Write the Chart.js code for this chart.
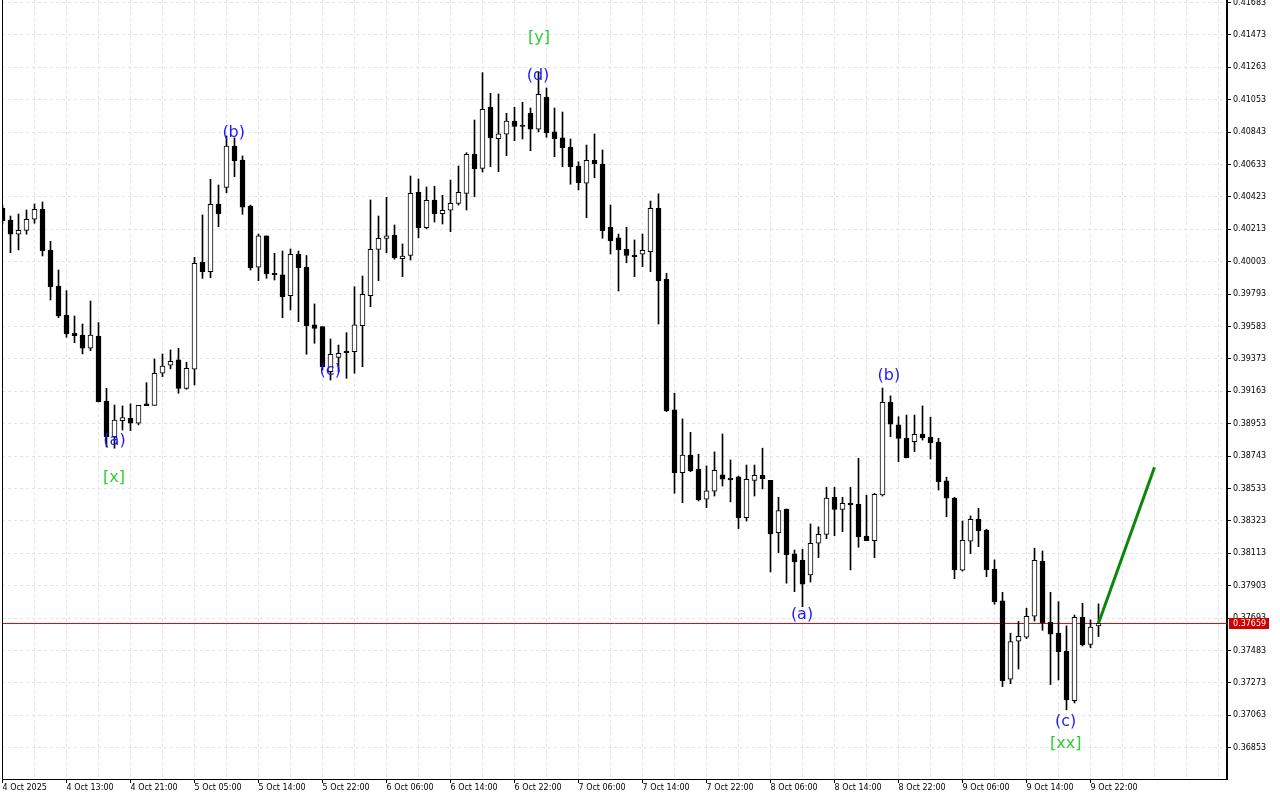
<!DOCTYPE html>
<html lang="en">
<head>
  <meta charset="UTF-8">
  <title>H1 candles</title>
  <script src="https://cdn.jsdelivr.net/npm/chart.js"></script>
  <style>
    body { margin: 0; background: #fff; }
  </style>
</head>
<body>
  <canvas id="candleChart" width="1280" height="800"></canvas>

  <script>
    // hourly candles, 4 Oct 05:00 .. 9 Oct 23:00
    const opens = [
      0.40349, 0.40273, 0.40181, 0.40206, 0.40278, 0.40343, 0.40077, 0.39845, 0.39656, 0.39539,
      0.39528, 0.39442, 0.39521, 0.39100, 0.38869, 0.38972, 0.38988, 0.38956, 0.39081, 0.39072,
      0.39280, 0.39332, 0.39366, 0.39182, 0.39306, 0.39999, 0.39938, 0.40377, 0.40485, 0.40753,
      0.40662, 0.40364, 0.39967, 0.40170, 0.39928, 0.39917, 0.39783, 0.40051, 0.39967, 0.39593,
      0.39582, 0.39290, 0.39383, 0.39424, 0.39420, 0.39588, 0.39783, 0.40083, 0.40153, 0.40174,
      0.40022, 0.40043, 0.40453, 0.40223, 0.40403, 0.40314, 0.40336, 0.40381, 0.40446, 0.40699,
      0.40608, 0.41004, 0.40800, 0.40829, 0.40915, 0.40882, 0.40965, 0.40861, 0.41070, 0.40844,
      0.40805, 0.40744, 0.40623, 0.40511, 0.40660, 0.40636, 0.40226, 0.40157, 0.40083, 0.40046,
      0.40051, 0.40068, 0.40349, 0.39889, 0.39042, 0.38635, 0.38750, 0.38659, 0.38463, 0.38515,
      0.38621, 0.38599, 0.38608, 0.38344, 0.38586, 0.38619, 0.38585, 0.38247, 0.38400, 0.38109,
      0.38068, 0.37972, 0.38178, 0.38236, 0.38476, 0.38398, 0.38437, 0.38431, 0.38225, 0.38195,
      0.38491, 0.39092, 0.38945, 0.38858, 0.38836, 0.38886, 0.38865, 0.38833, 0.38582, 0.38470,
      0.38003, 0.38191, 0.38333, 0.38264, 0.38011, 0.37804, 0.37297, 0.37543, 0.37569, 0.37705,
      0.38061, 0.37666, 0.37595, 0.37478, 0.37158, 0.37698, 0.37523, 0.37642
    ];
    const highs = [
      0.40370, 0.40299, 0.40312, 0.40338, 0.40377, 0.40390, 0.40135, 0.39949, 0.39815, 0.39651,
      0.39599, 0.39748, 0.39608, 0.39182, 0.39074, 0.39068, 0.39081, 0.39072, 0.39219, 0.39372,
      0.39405, 0.39431, 0.39442, 0.39351, 0.40031, 0.40306, 0.40537, 0.40500, 0.40818, 0.40805,
      0.40688, 0.40370, 0.40182, 0.40170, 0.40057, 0.40072, 0.40085, 0.40072, 0.40043, 0.39729,
      0.39582, 0.39502, 0.39463, 0.39543, 0.39841, 0.39910, 0.40403, 0.40299, 0.40420, 0.40241,
      0.40118, 0.40558, 0.40539, 0.40487, 0.40492, 0.40433, 0.40532, 0.40623, 0.40709, 0.40921,
      0.41228, 0.41094, 0.41090, 0.40965, 0.41004, 0.41036, 0.40999, 0.41232, 0.41129, 0.40999,
      0.40973, 0.40798, 0.40651, 0.40759, 0.40831, 0.40727, 0.40370, 0.40182, 0.40226, 0.40144,
      0.40182, 0.40396, 0.40443, 0.39928, 0.39150, 0.38984, 0.38897, 0.38755, 0.38679, 0.38770,
      0.38886, 0.38718, 0.38614, 0.38685, 0.38685, 0.38794, 0.38585, 0.38476, 0.38400, 0.38134,
      0.38139, 0.38303, 0.38284, 0.38541, 0.38541, 0.38476, 0.38541, 0.38729, 0.38489, 0.38502,
      0.39184, 0.39133, 0.38998, 0.39009, 0.39009, 0.39068, 0.38995, 0.38858, 0.38606, 0.38476,
      0.38322, 0.38355, 0.38405, 0.38269, 0.38070, 0.37860, 0.37595, 0.37672, 0.37757, 0.38146,
      0.38128, 0.37860, 0.37799, 0.37642, 0.37713, 0.37789, 0.37681, 0.37785
    ];
    const lows = [
      0.40247, 0.40061, 0.40079, 0.40181, 0.40252, 0.40040, 0.39755, 0.39640, 0.39513, 0.39478,
      0.39405, 0.39426, 0.39094, 0.38802, 0.38794, 0.38912, 0.38908, 0.38945, 0.39070, 0.39072,
      0.39258, 0.39308, 0.39150, 0.39176, 0.39204, 0.39895, 0.39899, 0.40230, 0.40450, 0.40554,
      0.40310, 0.39949, 0.39880, 0.39895, 0.39884, 0.39640, 0.39690, 0.39614, 0.39403, 0.39474,
      0.39301, 0.39236, 0.39290, 0.39247, 0.39280, 0.39322, 0.39711, 0.39880, 0.40061, 0.40019,
      0.39906, 0.40014, 0.40157, 0.40215, 0.40260, 0.40247, 0.40197, 0.40370, 0.40338, 0.40424,
      0.40584, 0.40619, 0.40586, 0.40690, 0.40787, 0.40798, 0.40722, 0.40844, 0.40809, 0.40683,
      0.40619, 0.40505, 0.40468, 0.40288, 0.40547, 0.40155, 0.40053, 0.39813, 0.39996, 0.39906,
      0.39971, 0.39938, 0.39599, 0.39031, 0.38502, 0.38441, 0.38642, 0.38452, 0.38409, 0.38484,
      0.38549, 0.38446, 0.38273, 0.38322, 0.38484, 0.38530, 0.37992, 0.38117, 0.37919, 0.37864,
      0.37767, 0.37927, 0.38085, 0.38208, 0.38227, 0.38253, 0.38005, 0.38152, 0.38195, 0.38085,
      0.38484, 0.38869, 0.38707, 0.38731, 0.38772, 0.38847, 0.38724, 0.38523, 0.38350, 0.37948,
      0.37998, 0.38111, 0.38156, 0.37961, 0.37783, 0.37249, 0.37268, 0.37363, 0.37560, 0.37674,
      0.37614, 0.37262, 0.37292, 0.37098, 0.37143, 0.37512, 0.37501, 0.37573
    ];
    const closes = [
      0.40269, 0.40181, 0.40206, 0.40278, 0.40343, 0.40074, 0.39841, 0.39651, 0.39536, 0.39523,
      0.39442, 0.39528, 0.39096, 0.38869, 0.38977, 0.38992, 0.38956, 0.39072, 0.39070, 0.39280,
      0.39327, 0.39357, 0.39182, 0.39312, 0.39993, 0.39938, 0.40375, 0.40314, 0.40753, 0.40658,
      0.40356, 0.39964, 0.40170, 0.39925, 0.39919, 0.39776, 0.40051, 0.39964, 0.39588, 0.39571,
      0.39322, 0.39403, 0.39409, 0.39413, 0.39593, 0.39792, 0.40083, 0.40155, 0.40171, 0.40029,
      0.40040, 0.40446, 0.40223, 0.40401, 0.40314, 0.40336, 0.40381, 0.40453, 0.40699, 0.40606,
      0.40991, 0.40807, 0.40831, 0.40915, 0.40880, 0.40880, 0.40861, 0.41088, 0.40839, 0.40800,
      0.40742, 0.40619, 0.40515, 0.40660, 0.40638, 0.40204, 0.40139, 0.40081, 0.40043, 0.40035,
      0.40077, 0.40349, 0.39880, 0.39037, 0.38635, 0.38750, 0.38646, 0.38459, 0.38517, 0.38651,
      0.38593, 0.38588, 0.38344, 0.38593, 0.38619, 0.38597, 0.38238, 0.38389, 0.38104, 0.38057,
      0.37912, 0.38178, 0.38236, 0.38470, 0.38398, 0.38437, 0.38428, 0.38221, 0.38195, 0.38495,
      0.39092, 0.38949, 0.38858, 0.38733, 0.38884, 0.38862, 0.38830, 0.38577, 0.38470, 0.38005,
      0.38197, 0.38333, 0.38260, 0.38007, 0.37799, 0.37287, 0.37540, 0.37575, 0.37705, 0.38068,
      0.37663, 0.37588, 0.37475, 0.37162, 0.37698, 0.37521, 0.37634, 0.37659
    ];

    // time labels, one every 8 bars
    const xLabels = [
      '4 Oct 2025', '4 Oct 13:00', '4 Oct 21:00', '5 Oct 05:00', '5 Oct 14:00', '5 Oct 22:00',
      '6 Oct 06:00', '6 Oct 14:00', '6 Oct 22:00', '7 Oct 06:00', '7 Oct 14:00', '7 Oct 22:00',
      '8 Oct 06:00', '8 Oct 14:00', '8 Oct 22:00', '9 Oct 06:00', '9 Oct 14:00', '9 Oct 22:00'
    ];
    const yTicks = [
      0.36853, 0.37063, 0.37273, 0.37483, 0.37693, 0.37903, 0.38113, 0.38323,
      0.38533, 0.38743, 0.38953, 0.39163, 0.39373, 0.39583, 0.39793, 0.40003,
      0.40213, 0.40423, 0.40633, 0.40843, 0.41053, 0.41263, 0.41473, 0.41683
    ];
    const lastPrice = 0.37659;

    // projection line (bar index, price)
    const projBars = [137, 144];
    const projPrices = [0.37659, 0.38670];

    // wave labels
    const waveText = ['[y]', '(d)', '(b)', '(a)', '[x]', '(c)', '(a)', '(b)', '(c)', '[xx]'];
    const waveBar = [67.06, 66.94, 28.9, 14.0, 13.94, 40.97, 99.94, 110.8, 132.9, 132.9];
    const wavePrice = [0.41453, 0.41206, 0.40837, 0.38844, 0.38601, 0.39293, 0.37713, 0.39262, 0.37020, 0.36877];

    const bodies = opens.map((o, i) => ({ x: i, y: [o, closes[i]] }));
    const wicks = lows.map((l, i) => ({ x: i, y: [l, highs[i]] }));
    const bodyFill = opens.map((o, i) => closes[i] >= o ? '#ffffff' : '#000000');
    const projection = projBars.map((b, i) => ({ x: b, y: projPrices[i] }));

    // grid every 4 bars
    const gridBars = [];
    for (let b = 0; b <= 152; b += 4) gridBars.push(b);

    const FONT = 'DejaVu Sans';
    Chart.defaults.font.family = FONT;

    const overlay = {
      id: 'overlay',
      beforeDatasetsDraw(chart) {
        const { ctx, chartArea: a, scales: { y } } = chart;
        const py = Math.round(y.getPixelForValue(lastPrice)) + 0.5;
        ctx.save();
        ctx.setLineDash([]);
        ctx.strokeStyle = '#ff0000';
        ctx.lineWidth = 1;
        ctx.beginPath();
        ctx.moveTo(a.left, py);
        ctx.lineTo(a.right, py);
        ctx.stroke();
        ctx.restore();
      },
      afterDatasetsDraw(chart) {
        const { ctx, scales: { x, y } } = chart;
        ctx.save();
        ctx.font = '16px "' + FONT + '"';
        ctx.textAlign = 'center';
        ctx.textBaseline = 'middle';
        waveText.forEach((t, i) => {
          ctx.fillStyle = t[0] === '[' ? '#32cd32' : '#1a1aff';
          ctx.fillText(t, x.getPixelForValue(waveBar[i]), y.getPixelForValue(wavePrice[i]));
        });
        ctx.restore();
      },
      afterDraw(chart) {
        const { ctx, chartArea: a, scales: { y } } = chart;
        ctx.save();
        // left frame line
        ctx.strokeStyle = '#000';
        ctx.lineWidth = 1;
        ctx.beginPath();
        ctx.moveTo(a.left + 0.5, a.top);
        ctx.lineTo(a.left + 0.5, a.bottom);
        ctx.stroke();
        // current price tag
        const py = Math.round(y.getPixelForValue(lastPrice));
        ctx.fillStyle = '#d00000';
        ctx.fillRect(a.right + 2, py - 5, 40, 11);
        ctx.fillStyle = '#fff';
        ctx.font = '8px "' + FONT + '"';
        ctx.textAlign = 'left';
        ctx.textBaseline = 'middle';
        ctx.fillText(lastPrice.toFixed(5), a.right + 6, py + 0.5);
        ctx.restore();
      }
    };

    const ctx = document.getElementById('candleChart').getContext('2d');
    const candleChart = new Chart(ctx, {
      type: 'bar',
      data: {
        datasets: [{
          type: 'line',
          data: projection,
          borderColor: '#0b870b',
          borderWidth: 3,
          pointRadius: 0,
          order: 0
        }, {
          data: bodies,
          backgroundColor: bodyFill,
          borderColor: '#000',
          borderWidth: 1,
          borderSkipped: false,
          barThickness: 5,
          minBarLength: 1,
          grouped: false,
          order: 1
        }, {
          data: wicks,
          backgroundColor: '#000',
          borderWidth: 0,
          barThickness: 1,
          grouped: false,
          order: 2
        }]
      },
      options: {
        responsive: false,
        animation: false,
        layout: { padding: { left: 2, top: 0, right: 0, bottom: 0 } },
        plugins: {
          legend: { display: false },
          tooltip: { enabled: false }
        },
        scales: {
          x: {
            type: 'linear',
            offset: false,
            min: -0.0625,
            max: 153.0625,
            afterBuildTicks: s => { s.ticks = gridBars.map(v => ({ value: v })); },
            afterFit: s => { s.height = 21; s.paddingLeft = 0; s.paddingRight = 0; },
            grid: {
              offset: false,
              color: '#e3e3e3',
              tickLength: 4,
              tickColor: c => (c.tick && c.tick.value % 8 === 0 && c.tick.value / 8 < xLabels.length) ? '#000' : 'rgba(0,0,0,0)'
            },
            border: { display: true, color: '#000', width: 1, dash: [3, 3] },
            ticks: {
              autoSkip: false,
              maxRotation: 0,
              align: 'start',
              padding: 0,
              color: '#000',
              font: { size: 8 },
              callback: v => (v % 8 === 0 && xLabels[v / 8]) || ''
            }
          },
          y: {
            position: 'right',
            min: 0.36650,
            max: 0.41699,
            afterBuildTicks: s => { s.ticks = yTicks.map(v => ({ value: v })); },
            afterFit: s => { s.width = 53; s.paddingTop = 0; s.paddingBottom = 0; },
            grid: { color: '#e3e3e3', tickLength: 4, tickColor: '#000' },
            border: { display: true, color: '#000', width: 2, dash: [3, 3] },
            ticks: {
              padding: 2,
              color: '#000',
              font: { size: 8 },
              callback: v => v.toFixed(5)
            }
          }
        }
      },
      plugins: [overlay]
    });
  </script>
</body>
</html>
